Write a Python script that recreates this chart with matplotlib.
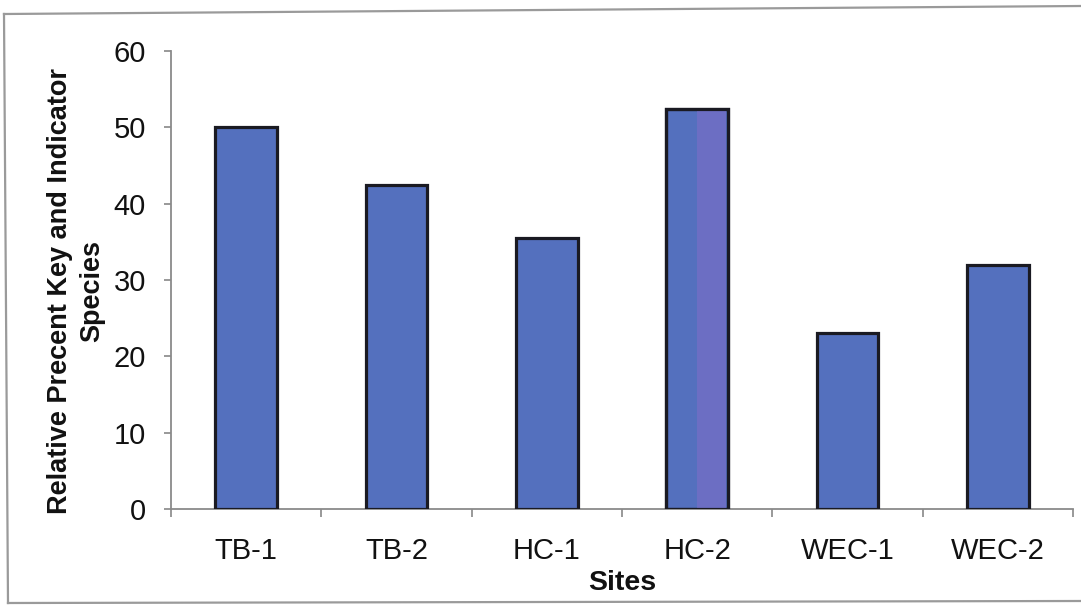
import matplotlib
matplotlib.use("Agg")
import matplotlib.pyplot as plt
from matplotlib.lines import Line2D

sites = ["TB-1", "TB-2", "HC-1", "HC-2", "WEC-1", "WEC-2"]
percent = [50.0, 42.5, 35.5, 52.4, 23.0, 32.0]
y_ticks = [0, 10, 20, 30, 40, 50, 60]

W, H = 1081, 605
DPI = 100
plt.rcParams["font.family"] = ["Liberation Sans", "DejaVu Sans"]

fig = plt.figure(figsize=(W / DPI, H / DPI), dpi=DPI)
fig.patch.set_facecolor("white")

def fx(px):
    return px / W

def fy(py):
    return 1 - py / H

ax = fig.add_axes([fx(171), fy(509), fx(1073) - fx(171), fy(51) - fy(509)])

bar_color = "#5470BE"
x = list(range(len(sites)))
ax.bar(x, percent, width=0.41, color=bar_color, edgecolor="#1a1a22",
       linewidth=2.3, zorder=3)
# lighter violet band on the right half of the HC-2 column
hc2 = sites.index("HC-2")
ax.bar([hc2], [percent[hc2]], width=0.19, align="edge", color="#6C6EC3",
       linewidth=0, zorder=3.5)
ax.bar([hc2], [percent[hc2]], width=0.41, fill=False, edgecolor="#1a1a22",
       linewidth=2.3, zorder=4)

ax.set_xlim(-0.5, len(sites) - 0.5)
ax.set_ylim(0, 60)
ax.set_yticks(y_ticks)
ax.set_yticklabels([str(t) for t in y_ticks])
ax.set_xticks(x)
ax.set_xticklabels(sites)

# category boundary ticks along the x axis
ax.set_xticks([i - 0.5 for i in range(len(sites) + 1)], minor=True)
ax.tick_params(axis="x", which="major", length=0, pad=20, labelsize=21,
               labelcolor="#111111")
ax.tick_params(axis="x", which="minor", length=6, width=1.2, color="#888888",
               direction="out")
ax.tick_params(axis="y", which="major", length=5, width=1.2, color="#888888",
               pad=13, labelsize=21, labelcolor="#111111")

for side in ["top", "right"]:
    ax.spines[side].set_visible(False)
for side in ["left", "bottom"]:
    ax.spines[side].set_color("#8a8a8a")
    ax.spines[side].set_linewidth(1.3)

ax.set_xlabel("Sites", fontsize=20.5, fontweight="bold", labelpad=4,
              color="#111111")
fig.text(fx(76), fy(291), "Relative Precent Key and Indicator\nSpecies",
         rotation=90, ha="center", va="center", fontsize=19.5,
         fontweight="bold", color="#111111", linespacing=1.3)

# outer frame around the chart area
frame_kw = dict(transform=fig.transFigure, color="#9a9a9a", linewidth=1.6)
fig.add_artist(Line2D([fx(4), fx(1081)], [fy(14), fy(6)], **frame_kw))
fig.add_artist(Line2D([fx(4), fx(8)], [fy(14), fy(603)], **frame_kw))
fig.add_artist(Line2D([fx(8), fx(1081)], [fy(603), fy(601)], **frame_kw))

fig.savefig("out.png", dpi=DPI, facecolor="white")
